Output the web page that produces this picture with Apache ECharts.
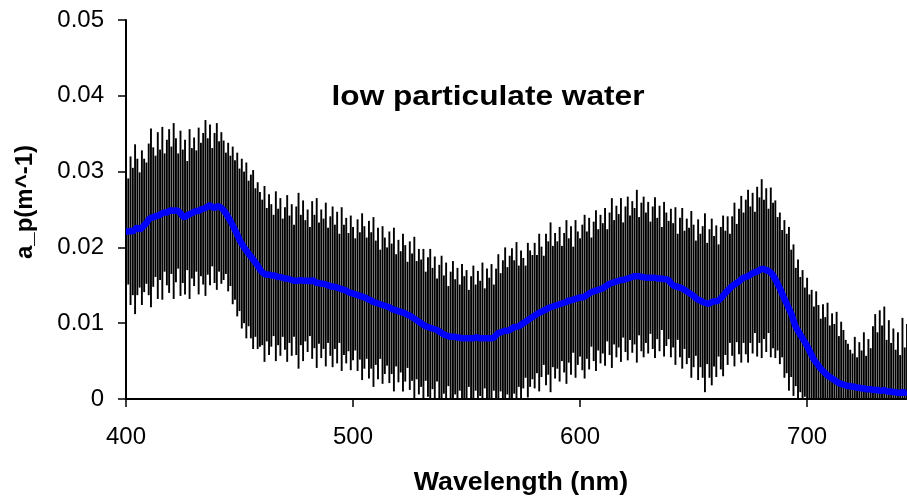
<!DOCTYPE html>
<html>
<head>
<meta charset="utf-8">
<script src="https://cdn.jsdelivr.net/npm/echarts@6/dist/echarts.min.js"></script>
<style>
html,body{margin:0;padding:0;background:#fff;}
#chart{width:907px;height:496px;}
</style>
</head>
<body>
<div id="chart"></div>
<script>
// Wavelength grid: one error bar per nanometre, from 400 nm
const startNm = 400;
const xTickLabels = [400, 500, 600, 700];
const yTickLabels = [0, 0.01, 0.02, 0.03, 0.04, 0.05];

// mean particulate absorption a_p (m^-1), 400..744 nm
const meanAp = [
0.0221,0.0221,0.0222,0.0221,0.0224,0.0227,0.0223,0.0226,0.0229,0.0232,
0.0237,0.0239,0.0240,0.0241,0.0242,0.0243,0.0245,0.0246,0.0246,0.0248,
0.0249,0.0248,0.0249,0.0248,0.0245,0.0241,0.0240,0.0242,0.0244,0.0245,
0.0247,0.0248,0.0248,0.0250,0.0251,0.0252,0.0254,0.0256,0.0253,0.0252,
0.0254,0.0254,0.0252,0.0249,0.0245,0.0240,0.0235,0.0229,0.0223,0.0217,
0.0210,0.0205,0.0200,0.0196,0.0192,0.0188,0.0184,0.0180,0.0176,0.0171,
0.0167,0.0165,0.0164,0.0164,0.0163,0.0163,0.0162,0.0161,0.0161,0.0160,
0.0159,0.0159,0.0158,0.0157,0.0156,0.0156,0.0156,0.0157,0.0156,0.0156,
0.0156,0.0155,0.0157,0.0155,0.0153,0.0153,0.0152,0.0152,0.0151,0.0150,
0.0149,0.0148,0.0148,0.0147,0.0146,0.0145,0.0144,0.0143,0.0141,0.0140,
0.0139,0.0138,0.0137,0.0136,0.0135,0.0134,0.0133,0.0131,0.0130,0.0128,
0.0127,0.0126,0.0125,0.0124,0.0123,0.0122,0.0121,0.0119,0.0118,0.0117,
0.0116,0.0115,0.0114,0.0113,0.0111,0.0110,0.0108,0.0106,0.0104,0.0102,
0.0100,0.0098,0.0096,0.0095,0.0094,0.0093,0.0092,0.0091,0.0089,0.0087,
0.0085,0.0084,0.0083,0.0082,0.0082,0.0082,0.0081,0.0081,0.0080,0.0080,
0.0080,0.0080,0.0080,0.0080,0.0081,0.0081,0.0080,0.0080,0.0080,0.0080,
0.0080,0.0080,0.0081,0.0084,0.0087,0.0088,0.0089,0.0090,0.0090,0.0091,
0.0093,0.0095,0.0095,0.0096,0.0098,0.0100,0.0102,0.0104,0.0106,0.0108,
0.0110,0.0112,0.0114,0.0115,0.0117,0.0118,0.0120,0.0121,0.0122,0.0123,
0.0124,0.0125,0.0126,0.0127,0.0128,0.0130,0.0130,0.0131,0.0132,0.0133,
0.0134,0.0134,0.0135,0.0137,0.0139,0.0141,0.0142,0.0143,0.0144,0.0145,
0.0146,0.0148,0.0150,0.0152,0.0153,0.0154,0.0155,0.0156,0.0157,0.0157,
0.0158,0.0159,0.0160,0.0161,0.0162,0.0162,0.0162,0.0161,0.0161,0.0160,
0.0160,0.0160,0.0160,0.0160,0.0159,0.0159,0.0159,0.0158,0.0158,0.0157,
0.0153,0.0150,0.0149,0.0148,0.0147,0.0146,0.0144,0.0142,0.0140,0.0138,
0.0136,0.0133,0.0131,0.0130,0.0128,0.0127,0.0126,0.0126,0.0128,0.0129,
0.0129,0.0130,0.0133,0.0136,0.0140,0.0143,0.0146,0.0149,0.0151,0.0153,
0.0155,0.0158,0.0160,0.0161,0.0162,0.0164,0.0166,0.0167,0.0168,0.0170,
0.0172,0.0171,0.0170,0.0169,0.0167,0.0163,0.0158,0.0152,0.0146,0.0139,
0.0132,0.0126,0.0119,0.0113,0.0104,0.0095,0.0090,0.0085,0.0080,0.0075,
0.0070,0.0064,0.0058,0.0052,0.0048,0.0044,0.0040,0.0037,0.0034,0.0031,
0.0029,0.0027,0.0025,0.0023,0.0021,0.0020,0.0019,0.0018,0.0017,0.0017,
0.0016,0.0016,0.0015,0.0015,0.0014,0.0014,0.0013,0.0013,0.0013,0.0012,
0.0012,0.0012,0.0011,0.0011,0.0012,0.0010,0.0010,0.0010,0.0009,0.0009,
0.0008,0.0008,0.0009,0.0008,0.0009
];

// standard deviation (half-length of each error bar), m^-1
const sdAp = [
0.0105,0.0070,0.0098,0.0084,0.0112,0.0090,0.0076,0.0102,0.0088,0.0080,
0.0100,0.0118,0.0092,0.0080,0.0110,0.0086,0.0114,0.0078,0.0096,0.0108,
0.0084,0.0116,0.0095,0.0076,0.0109,0.0088,0.0102,0.0072,0.0112,0.0086,
0.0098,0.0080,0.0110,0.0088,0.0100,0.0116,0.0090,0.0106,0.0078,0.0099,
0.0110,0.0086,0.0100,0.0092,0.0080,0.0098,0.0086,0.0104,0.0092,0.0108,
0.0094,0.0112,0.0100,0.0116,0.0096,0.0108,0.0118,0.0098,0.0110,0.0102,
0.0096,0.0116,0.0088,0.0106,0.0094,0.0080,0.0112,0.0090,0.0104,0.0078,
0.0094,0.0110,0.0084,0.0100,0.0074,0.0098,0.0116,0.0086,0.0106,0.0080,
0.0094,0.0072,0.0104,0.0088,0.0112,0.0080,0.0098,0.0086,0.0108,0.0076,
0.0092,0.0106,0.0082,0.0100,0.0072,0.0108,0.0086,0.0096,0.0078,0.0102,
0.0088,0.0074,0.0100,0.0084,0.0110,0.0094,0.0080,0.0104,0.0090,0.0112,
0.0082,0.0100,0.0072,0.0104,0.0090,0.0078,0.0100,0.0086,0.0108,0.0074,
0.0094,0.0080,0.0104,0.0090,0.0070,0.0098,0.0084,0.0108,0.0078,0.0096,
0.0084,0.0100,0.0072,0.0092,0.0104,0.0080,0.0096,0.0068,0.0088,0.0102,
0.0078,0.0096,0.0066,0.0086,0.0100,0.0076,0.0092,0.0070,0.0098,0.0082,
0.0090,0.0064,0.0082,0.0096,0.0070,0.0088,0.0076,0.0100,0.0066,0.0092,
0.0080,0.0098,0.0070,0.0088,0.0104,0.0078,0.0094,0.0110,0.0084,0.0098,
0.0106,0.0088,0.0112,0.0080,0.0098,0.0086,0.0074,0.0102,0.0090,0.0082,
0.0096,0.0078,0.0104,0.0086,0.0072,0.0100,0.0088,0.0112,0.0080,0.0096,
0.0084,0.0102,0.0076,0.0092,0.0108,0.0082,0.0098,0.0070,0.0104,0.0088,
0.0078,0.0096,0.0108,0.0084,0.0100,0.0072,0.0092,0.0106,0.0080,0.0098,
0.0086,0.0104,0.0074,0.0094,0.0112,0.0082,0.0100,0.0088,0.0108,0.0076,
0.0096,0.0108,0.0082,0.0100,0.0090,0.0114,0.0078,0.0098,0.0106,0.0086,
0.0100,0.0074,0.0094,0.0106,0.0080,0.0096,0.0068,0.0102,0.0088,0.0078,
0.0098,0.0082,0.0104,0.0070,0.0092,0.0106,0.0078,0.0096,0.0086,0.0110,
0.0094,0.0076,0.0106,0.0088,0.0100,0.0118,0.0080,0.0098,0.0110,0.0086,
0.0100,0.0074,0.0094,0.0106,0.0082,0.0098,0.0072,0.0092,0.0108,0.0078,
0.0096,0.0110,0.0086,0.0102,0.0114,0.0090,0.0106,0.0080,0.0112,0.0096,
0.0118,0.0092,0.0108,0.0082,0.0112,0.0096,0.0104,0.0088,0.0100,0.0084,
0.0104,0.0092,0.0108,0.0084,0.0100,0.0078,0.0094,0.0076,0.0090,0.0072,
0.0090,0.0074,0.0086,0.0070,0.0094,0.0080,0.0066,0.0088,0.0074,0.0096,
0.0068,0.0086,0.0074,0.0092,0.0062,0.0082,0.0072,0.0060,0.0056,0.0048,
0.0044,0.0066,0.0040,0.0060,0.0050,0.0074,0.0044,0.0066,0.0054,0.0084,
0.0100,0.0076,0.0106,0.0086,0.0110,0.0068,0.0094,0.0064,0.0084,0.0056,
0.0080,0.0050,0.0098,0.0060,0.0090
];

const wavelengths = meanAp.map((_, i) => startNm + i);

const FONT = '"Liberation Sans", Arial, sans-serif';
const chart = echarts.init(document.getElementById('chart'), null, {renderer: 'canvas'});

const barData = wavelengths.map((w, i) => [w, meanAp[i] - sdAp[i], meanAp[i] + sdAp[i]]);
const lineData = wavelengths.map((w, i) => [w, meanAp[i]]);

chart.setOption({
  animation: false,
  backgroundColor: '#fff',
  grid: {left: 126, right: 0, top: 20, bottom: 97, containLabel: false},
  xAxis: {
    type: 'value', min: 400, max: 744, interval: 100,
    axisLine: {show: true, lineStyle: {color: '#000', width: 2}},
    axisTick: {show: true, inside: false, length: 8, lineStyle: {color: '#000', width: 1.5}, customValues: xTickLabels},
    axisLabel: {color: '#000', fontSize: 24, fontFamily: FONT, margin: 26, customValues: xTickLabels},
    splitLine: {show: false}
  },
  yAxis: {
    type: 'value', min: 0, max: 0.05, interval: 0.01,
    axisLine: {show: true, lineStyle: {color: '#000', width: 2}},
    axisTick: {show: true, inside: false, length: 8, lineStyle: {color: '#000', width: 1.5}},
    axisLabel: {color: '#000', fontSize: 24, fontFamily: FONT, margin: 22,
      formatter: v => (v === 0 ? '0' : v.toFixed(2))},
    splitLine: {show: false}
  },
  series: [
    {
      type: 'custom',
      clip: true,
      data: barData,
      encode: {x: 0, y: [1, 2]},
      renderItem: function (params, api) {
        const x = api.value(0);
        const lo = Math.max(0, api.value(1));
        const hi = api.value(2);
        const p1 = api.coord([x, lo]);
        const p2 = api.coord([x, hi]);
        return {
          type: 'line',
          shape: {x1: p1[0], y1: p1[1], x2: p2[0], y2: p2[1]},
          style: {stroke: '#000', lineWidth: 1.9}
        };
      },
      z: 2
    },
    {
      type: 'line',
      data: lineData,
      showSymbol: false,
      symbol: 'none',
      lineStyle: {color: '#0000FF', width: 6.5},
      z: 5
    }
  ],
  graphic: [
    {type: 'text', x: 488, y: 97, z: 10, scaleX: 1.13,
     style: {text: 'low particulate water', font: 'bold 28px ' + FONT, fill: '#000', align: 'center', verticalAlign: 'middle'}},
    {type: 'text', x: 521, y: 483, z: 10, scaleX: 1.07,
     style: {text: 'Wavelength (nm)', font: 'bold 25px ' + FONT, fill: '#000', align: 'center', verticalAlign: 'middle'}},
    {type: 'text', x: 25, y: 202, rotation: Math.PI / 2, z: 10,
     style: {text: 'a_p(m^-1)', font: 'bold 24px ' + FONT, fill: '#000', align: 'center', verticalAlign: 'middle'}}
  ]
});
</script>
</body>
</html>
